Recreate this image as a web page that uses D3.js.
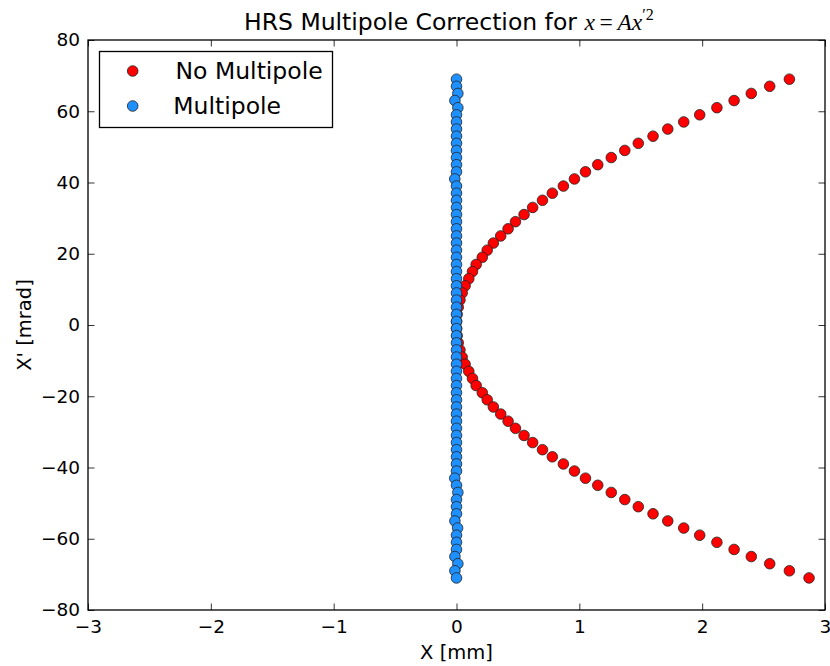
<!DOCTYPE html>
<html>
<head>
<meta charset="utf-8">
<script src="https://cdn.jsdelivr.net/npm/d3@7"></script>
<style>
  body { margin: 0; background: #fff; }
  text { font-family: "DejaVu Sans", sans-serif; fill: #000; }
</style>
</head>
<body>
<div id="chart"></div>
<script>
// X' of each track [mrad], same for both series
var xpValues = [
  69, 67, 65, 63, 61, 59, 57, 55, 53, 51, 49, 47, 45, 43, 41, 39, 37, 35,
  33, 31, 29, 27, 25, 23, 21, 19, 17, 15, 13, 11, 9, 7, 5, 3, 1,
  -1, -3, -5, -7, -9, -11, -13, -15, -17, -19, -21, -23, -25, -27, -29, -31, -33,
  -35, -37, -39, -41, -43, -45, -47, -49, -51, -53, -55, -57, -59, -61, -63, -65,
  -67, -69, -71
];

// X [mm] without multipole correction
var xNoMultipole = [
  2.71, 2.55, 2.40, 2.26, 2.12, 1.98, 1.85, 1.72, 1.60, 1.48, 1.37, 1.26, 1.15,
  1.05, 0.96, 0.87, 0.78, 0.70, 0.62, 0.55, 0.48, 0.42, 0.36, 0.30, 0.25, 0.21,
  0.16, 0.13, 0.10, 0.07, 0.046, 0.028, 0.014, 0.005, 0.001,
  0.001, 0.005, 0.014, 0.028, 0.046, 0.07, 0.10, 0.13, 0.16, 0.21, 0.25, 0.30,
  0.36, 0.42, 0.48, 0.55, 0.62, 0.70, 0.78, 0.87, 0.96, 1.05, 1.15, 1.26, 1.37,
  1.48, 1.60, 1.72, 1.85, 1.98, 2.12, 2.26, 2.40, 2.55, 2.71, 2.87
];

// X [mm] with multipole correction
var xMultipole = [
  0, 0, 0.011, -0.013, 0.011, 0, 0, 0, 0, 0, 0, 0, 0, 0, -0.014, 0, 0, 0,
  0, 0, 0, 0, 0, 0, 0, 0, 0, 0, 0, 0, 0, 0, 0, 0, 0,
  0, 0, 0, 0, 0, 0, 0, 0, 0, 0, 0, 0, 0, 0, 0, 0, 0,
  0, 0, 0, 0, -0.014, 0, 0.011, 0, 0, 0, -0.013, 0.009, 0, 0, 0, -0.013,
  0.011, -0.013, 0
];

var seriesNames = ["No Multipole", "Multipole"];
var xTicks = [-3, -2, -1, 0, 1, 2, 3];
var yTicks = [-80, -60, -40, -20, 0, 20, 40, 60, 80];

var redColor = "#ff0000";
var blueColor = "#1e90ff";

var w = 830;
var h = 666;
var mLeft = 88, mRight = 825, mTop = 40, mBottom = 610;
var tickFont = 18.5;
var markerR = 5.3;

var svg = d3
  .select("#chart")
  .append("svg")
  .attr("width", w)
  .attr("height", h);

var xScale = d3.scaleLinear().domain([-3, 3]).range([mLeft, mRight]);
var yScale = d3.scaleLinear().domain([-80, 80]).range([mBottom, mTop]);
var fmt = d3.format("d");

function styleAxis(g) {
  g.select(".domain").remove();
  g.attr("font-size", tickFont).attr("font-family", "DejaVu Sans");
  g.selectAll(".tick line").attr("stroke", "#000").attr("stroke-width", 0.8);
}

// bottom axis with labels, ticks pointing inwards
svg
  .append("g")
  .attr("transform", "translate(0," + mBottom + ")")
  .call(d3.axisBottom(xScale).tickValues(xTicks).tickFormat(fmt).tickSizeInner(-6.5).tickSizeOuter(0).tickPadding(10))
  .call(styleAxis);

// left axis
svg
  .append("g")
  .attr("transform", "translate(" + mLeft + ",0)")
  .call(d3.axisLeft(yScale).tickValues(yTicks).tickFormat(fmt).tickSizeInner(-6.5).tickSizeOuter(0).tickPadding(8))
  .call(styleAxis);

// top and right: ticks only
svg
  .append("g")
  .attr("transform", "translate(0," + mTop + ")")
  .call(d3.axisTop(xScale).tickValues(xTicks).tickSizeInner(-6.5).tickSizeOuter(0).tickFormat(""))
  .call(styleAxis);

svg
  .append("g")
  .attr("transform", "translate(" + mRight + ",0)")
  .call(d3.axisRight(yScale).tickValues(yTicks).tickSizeInner(-6.5).tickSizeOuter(0).tickFormat(""))
  .call(styleAxis);

// frame
svg
  .append("rect")
  .attr("x", mLeft)
  .attr("y", mTop)
  .attr("width", mRight - mLeft)
  .attr("height", mBottom - mTop)
  .attr("fill", "none")
  .attr("stroke", "#000")
  .attr("stroke-width", 1.3);

// points
var redData = xpValues.map(function (d, i) {
  return { x: xNoMultipole[i], y: d };
});
var blueData = xpValues.map(function (d, i) {
  return { x: xMultipole[i], y: d };
});

function drawPoints(data, color, cls) {
  svg
    .selectAll("." + cls)
    .data(data)
    .enter()
    .append("circle")
    .attr("class", cls)
    .attr("cx", function (d) {
      return xScale(d.x);
    })
    .attr("cy", function (d) {
      return yScale(d.y);
    })
    .attr("r", markerR)
    .attr("fill", color)
    .attr("stroke", "#222")
    .attr("stroke-width", 0.8);
}

drawPoints(redData, redColor, "red-pt");
drawPoints(blueData, blueColor, "blue-pt");

// legend
var legend = svg.append("g");
legend
  .append("rect")
  .attr("x", 99.5)
  .attr("y", 51.5)
  .attr("width", 233)
  .attr("height", 76)
  .attr("fill", "#fff")
  .attr("stroke", "#000")
  .attr("stroke-width", 1.3);

var legendColors = [redColor, blueColor];
seriesNames.forEach(function (name, i) {
  legend
    .append("circle")
    .attr("cx", 132.7)
    .attr("cy", 71 + i * 35)
    .attr("r", markerR)
    .attr("fill", legendColors[i])
    .attr("stroke", "#222")
    .attr("stroke-width", 0.8);
  legend
    .append("text")
    .attr("x", i === 0 ? 175.5 : 173.3)
    .attr("y", 79 + i * 35)
    .style("font-size", "23.5px")
    .text(name);
});

// title with math part
var title = svg
  .append("text")
  .attr("x", 244)
  .attr("y", 30)
  .style("font-size", "23.5px");
title.append("tspan").text("HRS Multipole Correction for ");
var mathFont = "'Liberation Serif', serif";
title.append("tspan").attr("font-family", mathFont).attr("font-style", "italic").text("x");
title.append("tspan").attr("font-family", mathFont).text("\u2009=\u2009");
title.append("tspan").attr("font-family", mathFont).attr("font-style", "italic").text("Ax");
title
  .append("tspan")
  .attr("font-family", mathFont)
  .attr("dy", -10)
  .style("font-size", "16px")
  .text("\u20322");

// axis labels
svg
  .append("text")
  .attr("x", (mLeft + mRight) / 2)
  .attr("y", 659)
  .attr("text-anchor", "middle")
  .style("font-size", "19.5px")
  .text("X [mm]");

svg
  .append("text")
  .attr("transform", "translate(31," + (mTop + mBottom) / 2 + ") rotate(-90)")
  .attr("text-anchor", "middle")
  .style("font-size", "19.5px")
  .text("X' [mrad]");
</script>
</body>
</html>
